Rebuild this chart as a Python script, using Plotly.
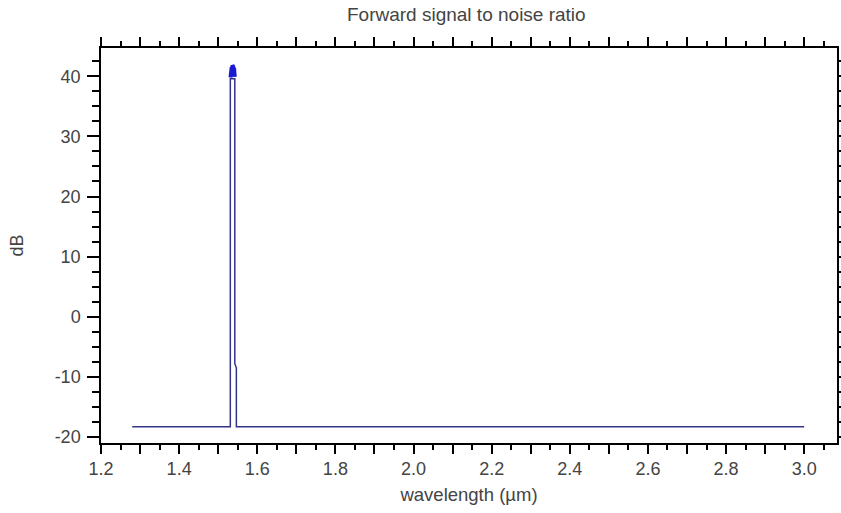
import plotly.graph_objects as go

# Forward SNR trace (wavelength in µm, SNR in dB)
wavelength_um = [1.28, 1.531, 1.531, 1.5425, 1.5425, 1.5465, 1.5465, 3.0]
snr_db = [-18.3, -18.3, 39.6, 39.6, -7.8, -8.5, -18.3, -18.3]

# Dense channel peaks at the top of the signal band
peak_wavelength_um = [1.5315, 1.5325, 1.5335, 1.5345, 1.5355, 1.5365,
                      1.5375, 1.5385, 1.5395, 1.5405, 1.5415, 1.5425]
peak_snr_db = [39.8, 40.9, 40.6, 41.5, 41.0, 41.8, 41.2, 41.6, 40.9, 41.4, 40.6, 39.9]

# Tick labels
x_tickvals = [1.2, 1.3, 1.4, 1.5, 1.6, 1.7, 1.8, 1.9, 2.0, 2.1, 2.2, 2.3, 2.4,
              2.5, 2.6, 2.7, 2.8, 2.9, 3.0]
x_ticktext = ["1.2", "", "1.4", "", "1.6", "", "1.8", "", "2.0", "", "2.2", "",
              "2.4", "", "2.6", "", "2.8", "", "3.0"]
y_tickvals = [-20, -10, 0, 10, 20, 30, 40]
y_ticktext = ["-20", "-10", "0", "10", "20", "30", "40"]

line_color = "#33338a"
peak_color = "#1a1ad2"
text_color = "#444444"
font_family = "Liberation Sans, Arial, sans-serif"

fig = go.Figure()
fig.add_trace(go.Scatter(
    x=wavelength_um, y=snr_db, mode="lines",
    line=dict(color=line_color, width=1.5),
    showlegend=False, hoverinfo="x+y",
))
fig.add_trace(go.Scatter(
    x=peak_wavelength_um, y=peak_snr_db, mode="lines",
    line=dict(color=peak_color, width=4),
    showlegend=False, hoverinfo="x+y",
))

fig.update_layout(
    width=841, height=513,
    margin=dict(l=101, r=4, t=48, b=70, autoexpand=False),
    paper_bgcolor="white", plot_bgcolor="white",
    font=dict(family=font_family, size=18, color=text_color),
    title=dict(text="Forward signal to noise ratio", x=0.5545, xanchor="center",
               y=0.972, yanchor="middle",
               font=dict(size=19, color=text_color)),
)

fig.update_xaxes(
    range=[1.2, 3.084], automargin=False,
    tickmode="array", tickvals=x_tickvals, ticktext=x_ticktext,
    ticks="outside", ticklen=9, tickwidth=1.5, tickcolor="black",
    minor=dict(dtick=0.05, tick0=1.2, ticks="outside", ticklen=5,
               tickwidth=1.5, tickcolor="black", showgrid=False),
    showline=True, linecolor="black", linewidth=1.5, mirror="ticks",
    showgrid=False, zeroline=False,
    title=dict(text="wavelength (µm)", standoff=10, font=dict(size=18.5)),
    tickfont=dict(size=18),
)
fig.update_yaxes(
    range=[-21, 44.7], automargin=False,
    tickmode="array", tickvals=y_tickvals, ticktext=y_ticktext,
    ticks="outside", ticklen=12, tickwidth=1.5, tickcolor="black",
    minor=dict(dtick=2.5, tick0=0, ticks="outside", ticklen=7,
               tickwidth=1.5, tickcolor="black", showgrid=False),
    showline=True, linecolor="black", linewidth=1.5, mirror="ticks",
    showgrid=False, zeroline=False, ticklabelstandoff=3,
    title=dict(text="dB", standoff=26, font=dict(size=18)),
    tickfont=dict(size=18),
)

fig.write_html("out.html")
